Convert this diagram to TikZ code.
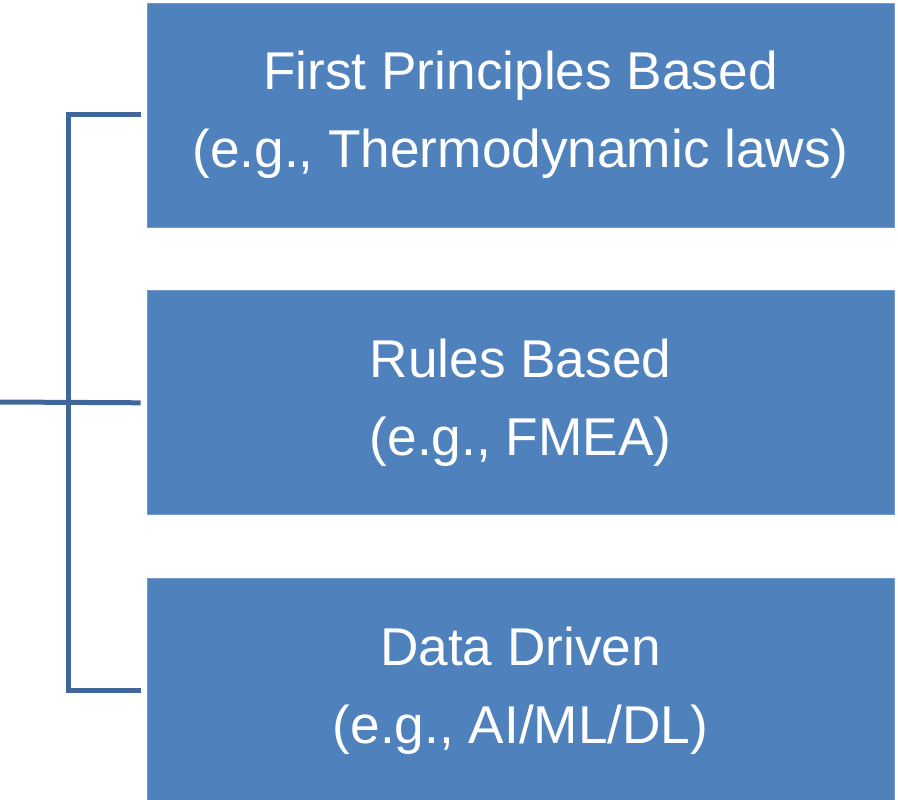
\documentclass[tikz,border=0pt]{standalone}
\usepackage{fontspec}
\setmainfont{Liberation Sans}
\usepackage{xcolor}
\usepackage{tikz}
\usetikzlibrary{positioning,calc}
\definecolor{BoxBlue}{HTML}{4F81BD}
\definecolor{LineBlue}{HTML}{41669A}

\begin{document}
\begin{tikzpicture}[x=1pt,y=-1pt,
  catbox/.style={fill=BoxBlue,draw=BoxBlue!80!white,line width=0.8pt,minimum width=747pt,minimum height=224pt,
    text=white,align=center,font=\fontsize{53.2}{78}\selectfont},
  bracket/.style={draw=LineBlue,line width=5pt}]
  \clip (0,0) rectangle (898,800);
  \node[catbox] (fpb) at (520.5,115) {First Principles Based\\(e.g., Thermodynamic laws)};
  \node[catbox,below=63pt of fpb] (rb) {Rules Based\\(e.g., FMEA)};
  \node[catbox,below=63pt of rb] (dd) {Data Driven\\(e.g., AI/ML/DL)};
  \coordinate (stem) at (0,402);
  \coordinate (spine) at (68,402);
  \draw[bracket] ([xshift=-6pt]fpb.west) -| (spine) |- ([xshift=-6pt]dd.west);
  \draw[bracket] (stem) -- ([xshift=-6pt]rb.west);
\end{tikzpicture}
\end{document}
